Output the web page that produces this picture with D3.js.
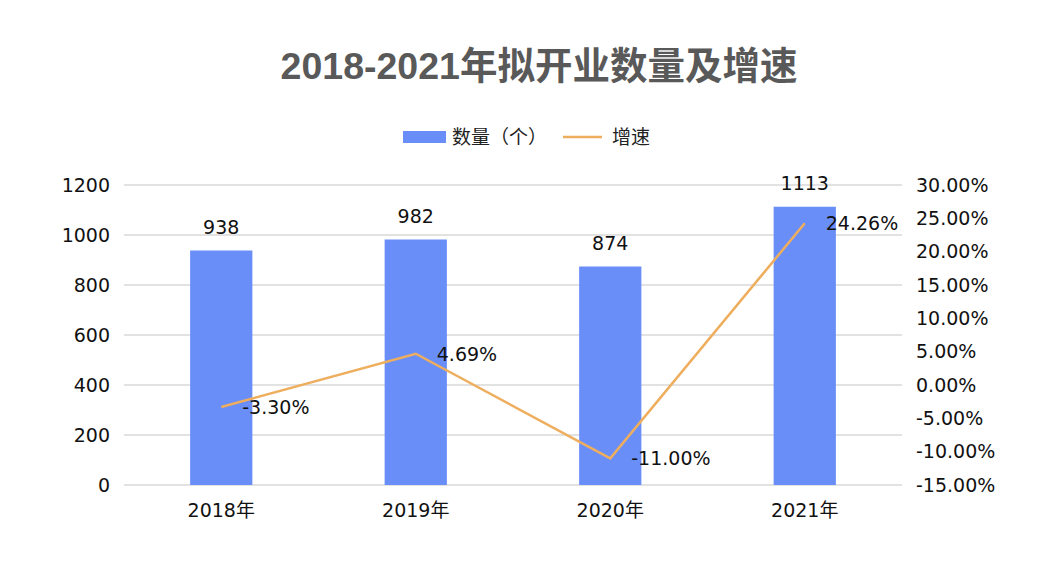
<!DOCTYPE html>
<html>
<head>
<meta charset="utf-8">
<script src="https://cdn.jsdelivr.net/npm/d3@7"></script>
<style>
  body { margin: 0; background: #fff; }
  text { font-family: "DejaVu Sans", "Noto Sans CJK SC", sans-serif; }
</style>
</head>
<body>
<svg id="chart" width="1056" height="587"></svg>
<script>
const years = ['2018年', '2019年', '2020年', '2021年'];
const counts = [938, 982, 874, 1113];
const growth = [-3.30, 4.69, -11.00, 24.26];
const leftTicks = [0, 200, 400, 600, 800, 1000, 1200];
const rightTicks = [-15, -10, -5, 0, 5, 10, 15, 20, 25, 30];

const barColor = '#6a8ef8';
const lineColor = '#eeae5e';
const textColor = '#111';
const fs = 19;

const svg = d3.select('#chart');

const plotLeft = 124, plotRight = 902, plotTop = 185, plotBottom = 485;

const x = d3.scaleBand().domain(years).range([plotLeft, plotRight]);
const yL = d3.scaleLinear().domain([0, 1200]).range([plotBottom, plotTop]);
const yR = d3.scaleLinear().domain([-15, 30]).range([plotBottom, plotTop]);
const barW = x.bandwidth() * 0.32;
const cx = d => x(d) + x.bandwidth() / 2;

// title
svg.append('text')
    .attr('x', 539).attr('y', 79)
    .attr('text-anchor', 'middle')
    .attr('font-size', 37.5).attr('font-weight', 'bold')
    .style('font-family', '"Liberation Sans", "Noto Sans CJK SC", sans-serif')
    .attr('fill', '#595959')
    .text('2018-2021年拟开业数量及增速');

// legend
const lg = svg.append('g');
lg.append('rect').attr('x', 403).attr('y', 131).attr('width', 43).attr('height', 12).attr('fill', barColor);
lg.append('text').attr('x', 452).attr('y', 144).attr('font-size', 19).attr('fill', '#222')
    .style('font-family', '"Noto Sans CJK SC", sans-serif').text('数量（个）');
lg.append('line').attr('x1', 563).attr('x2', 602).attr('y1', 137).attr('y2', 137)
    .attr('stroke', lineColor).attr('stroke-width', 2.5);
lg.append('text').attr('x', 612).attr('y', 144).attr('font-size', 19).attr('fill', '#222')
    .style('font-family', '"Noto Sans CJK SC", sans-serif').text('增速');

// gridlines
svg.append('g').selectAll('line')
    .data(leftTicks)
    .join('line')
    .attr('x1', plotLeft).attr('x2', plotRight)
    .attr('y1', d => yL(d)).attr('y2', d => yL(d))
    .attr('stroke', '#d9d9d9').attr('stroke-width', 1.5);

// left axis
const axL = svg.append('g')
    .attr('transform', `translate(${plotLeft - 14},0)`)
    .call(d3.axisLeft(yL).tickValues(leftTicks).tickSize(0).tickPadding(0).tickFormat(d3.format('d')));
axL.select('.domain').remove();
axL.selectAll('text').attr('font-size', fs).attr('fill', textColor).attr('font-family', null);

// right axis
const axR = svg.append('g')
    .attr('transform', `translate(${plotRight + 14},0)`)
    .call(d3.axisRight(yR).tickValues(rightTicks).tickSize(0).tickPadding(0)
        .tickFormat(d => d.toFixed(2) + '%'));
axR.select('.domain').remove();
axR.selectAll('text').attr('font-size', fs).attr('fill', textColor).attr('font-family', null);

// bottom axis
const axB = svg.append('g')
    .attr('transform', `translate(0,${plotBottom + 17})`)
    .call(d3.axisBottom(x).tickSize(0).tickPadding(0));
axB.select('.domain').remove();
axB.selectAll('text').attr('font-size', fs).attr('fill', textColor).attr('dy', '0.8em')
    .attr('font-family', null);

// bars
svg.append('g').selectAll('rect')
    .data(counts)
    .join('rect')
    .attr('x', (d, i) => cx(years[i]) - barW / 2)
    .attr('y', d => yL(d))
    .attr('width', barW)
    .attr('height', d => plotBottom - yL(d))
    .attr('fill', barColor);

// bar labels
svg.append('g').selectAll('text')
    .data(counts)
    .join('text')
    .attr('x', (d, i) => cx(years[i]))
    .attr('y', d => yL(d) - 17)
    .attr('text-anchor', 'middle')
    .attr('font-size', fs).attr('fill', textColor)
    .text(d => d);

// growth line
const line = d3.line()
    .x((d, i) => cx(years[i]))
    .y(d => yR(d));
svg.append('path')
    .datum(growth)
    .attr('d', line)
    .attr('fill', 'none')
    .attr('stroke', lineColor)
    .attr('stroke-width', 2.5);

// growth labels
svg.append('g').selectAll('text')
    .data(growth)
    .join('text')
    .attr('x', (d, i) => cx(years[i]) + 21)
    .attr('y', d => yR(d) + 7)
    .attr('font-size', fs).attr('fill', textColor)
    .text(d => d.toFixed(2) + '%');
</script>
</body>
</html>
